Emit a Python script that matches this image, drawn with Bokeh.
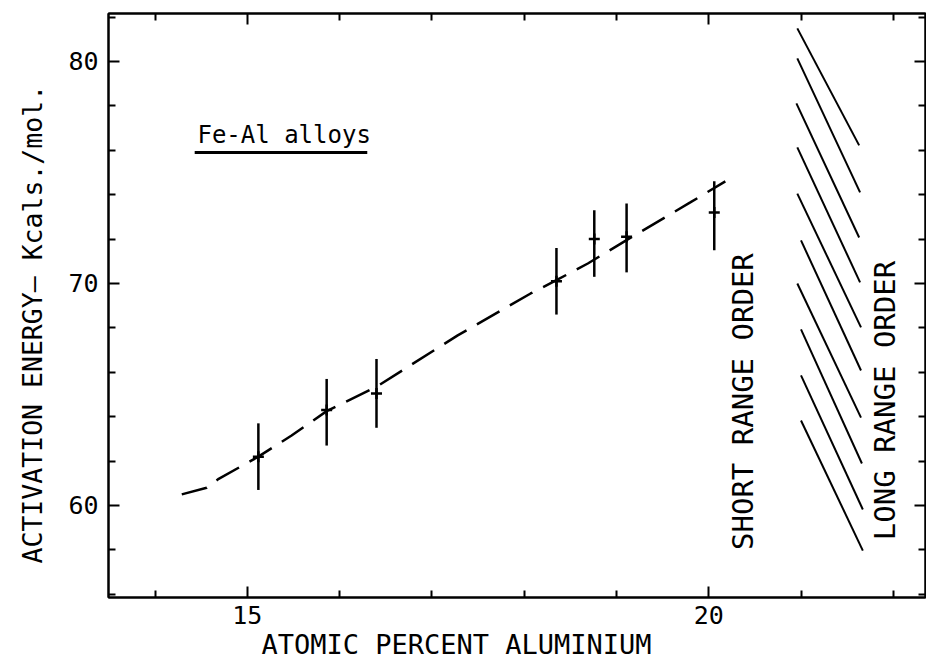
from bokeh.plotting import figure
from bokeh.models import LinearAxis, FixedTicker, Label, Range1d, Title
from bokeh.embed import file_html
from bokeh.resources import INLINE

# ---- data ----
pt_x = [15.12, 15.86, 16.40, 18.35, 18.76, 19.11, 20.06]
pt_y = [62.2, 64.3, 65.05, 70.1, 72.0, 72.1, 73.2]
err_lo = [60.7, 62.7, 63.5, 68.6, 70.3, 70.5, 71.5]
err_hi = [63.7, 65.7, 66.6, 71.6, 73.3, 73.6, 74.6]

curve_x = [14.29, 14.56, 14.69, 15.12, 15.48, 15.86, 16.40, 17.28, 18.07, 18.35, 18.69, 19.11, 19.80, 20.18]
curve_y = [60.5, 60.8, 61.2, 62.2, 63.15, 64.25, 65.35, 67.66, 69.55, 70.15, 70.9, 71.95, 73.65, 74.6]

hatch_x0 = [20.96, 20.96, 20.95, 20.96, 20.96, 21.00, 20.96, 21.00, 21.00, 21.00]
hatch_y0 = [81.49, 80.14, 78.11, 76.13, 74.05, 71.94, 70.00, 67.93, 65.86, 63.83]
hatch_x1 = [21.63, 21.64, 21.63, 21.64, 21.65, 21.65, 21.65, 21.66, 21.67, 21.67]
hatch_y1 = [76.22, 74.10, 72.07, 70.05, 68.02, 66.08, 63.96, 61.89, 59.82, 57.97]

x_major = [15, 20]
x_minor = [14, 16, 17, 18, 19, 21, 22]
y_major = [60, 70, 80]
y_minor = [56, 58, 62, 64, 66, 68, 72, 74, 76, 78, 82]

x_label = "ATOMIC PERCENT ALUMINIUM"
y_label = "ACTIVATION ENERGY\u2013 Kcals./mol."
title_text = "Fe-Al alloys"
sro_text = "SHORT RANGE ORDER"
lro_text = "LONG RANGE ORDER"

FONT = "DejaVu Sans Mono"

p = figure(width=926, height=665,
           x_range=Range1d(13.496, 22.349), y_range=Range1d(55.856, 82.16),
           output_backend="svg", toolbar_location=None,
           min_border_left=107, min_border_right=1,
           min_border_top=13, min_border_bottom=68)
p.xgrid.visible = False
p.ygrid.visible = False
p.outline_line_color = "black"
p.outline_line_width = 2
p.background_fill_color = "white"
p.border_fill_color = "white"


def style_axis(ax, ticks, minor, labels=True):
    ax.ticker = FixedTicker(ticks=ticks, minor_ticks=minor)
    ax.axis_line_width = 2
    ax.axis_line_color = "black"
    ax.major_tick_in = 11
    ax.major_tick_out = 0
    ax.minor_tick_in = 7
    ax.minor_tick_out = 0
    ax.major_tick_line_width = 2
    ax.minor_tick_line_width = 2
    ax.major_tick_line_color = "black"
    ax.minor_tick_line_color = "black"
    ax.major_label_text_font = FONT
    ax.major_label_text_font_size = "25px"
    ax.major_label_text_color = "black"
    ax.major_label_standoff = 10
    if not labels:
        ax.major_label_overrides = {t: "" for t in ticks}
        ax.major_label_standoff = 0
        ax.major_label_text_font_size = "1px"


style_axis(p.xaxis[0], x_major, x_minor)
style_axis(p.yaxis[0], y_major, y_minor)
p.xaxis[0].major_label_standoff = 8

top = LinearAxis()
style_axis(top, x_major, x_minor, labels=False)
p.add_layout(top, "above")
right = LinearAxis()
style_axis(right, y_major, y_minor, labels=False)
p.add_layout(right, "right")

# axis titles placed in the side panels
p.add_layout(Title(text=x_label, align="left", offset=153, standoff=0,
                   text_font=FONT, text_font_size="27px", text_font_style="normal",
                   text_color="black"), "below")
p.add_layout(Title(text=y_label, align="left", offset=34, standoff=32,
                   vertical_align="top",
                   text_font=FONT, text_font_size="26.5px", text_font_style="normal",
                   text_color="black"), "left")

# hatched boundary
p.segment(x0=hatch_x0, y0=hatch_y0, x1=hatch_x1, y1=hatch_y1,
          line_color="black", line_width=2)

# dashed curve
p.line(curve_x, curve_y, line_dash="26 12", line_width=2.5, line_color="black")

# error bars and points
p.segment(x0=pt_x, y0=err_lo, x1=pt_x, y1=err_hi, line_color="black", line_width=2.5)
p.scatter(pt_x, pt_y, marker="cross", size=11, line_width=2.5, line_color="black")

# underline for the legend-like title
p.segment(x0=[14.43], y0=[75.9], x1=[16.30], y1=[75.9], line_color="black", line_width=3)

p.add_layout(Label(x=14.46, y=76.71, text=title_text, text_font=FONT,
                   text_font_size="24px", text_color="black",
                   text_align="left", text_baseline="middle"))
p.add_layout(Label(x=20.37, y=64.68, text=sro_text, text_font=FONT,
                   text_font_size="29px", text_color="black", angle=90,
                   angle_units="deg", text_align="center", text_baseline="middle"))
p.add_layout(Label(x=21.905, y=64.73, text=lro_text, text_font=FONT,
                   text_font_size="29px", text_color="black", angle=90,
                   angle_units="deg", text_align="center", text_baseline="middle"))

open("out.html", "w").write(file_html(p, INLINE))
